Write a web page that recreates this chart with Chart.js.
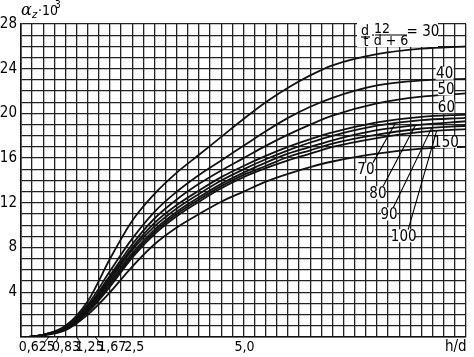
<!DOCTYPE html>
<html>
<head>
<meta charset="utf-8">
<script src="https://cdn.jsdelivr.net/npm/chart.js@4/dist/chart.umd.min.js"></script>
<style>
html,body{margin:0;padding:0;background:#fff;}
canvas{display:block;}
</style>
</head>
<body>
<canvas id="c" width="474" height="357"></canvas>
<script>
// ---- data ----
const xValues = [0.17, 0.5, 1.0, 1.5, 2.0, 2.5, 3.0, 3.5, 4.0, 4.5, 5.0, 5.5, 6.0, 6.5, 7.0, 8.0, 9.0, 10.0];
const c30  = [0, 0.2, 1.0, 3.2, 7.0, 10.4, 12.8, 14.7, 16.3, 17.9, 19.5, 21.0, 22.3, 23.4, 24.3, 25.3, 25.8, 26.0];
const c40  = [0, 0.2, 0.9, 2.9, 5.9, 8.8, 11.2, 13.0, 14.5, 15.8, 17.1, 18.4, 19.6, 20.6, 21.4, 22.5, 22.95, 23.1];
const c50  = [0, 0.2, 0.9, 2.7, 5.5, 8.3, 10.6, 12.3, 13.7, 14.9, 16.0, 17.1, 18.1, 19.0, 19.8, 20.9, 21.5, 21.8];
const c60  = [0, 0.2, 0.8, 2.6, 5.3, 8.0, 10.2, 11.8, 13.1, 14.3, 15.3, 16.2, 17.0, 17.7, 18.3, 19.2, 19.7, 19.9];
const c70  = [0, 0.2, 0.8, 2.5, 5.1, 7.8, 9.9, 11.5, 12.8, 14.0, 15.0, 15.9, 16.7, 17.4, 18.0, 18.9, 19.4, 19.6];
const c80  = [0, 0.2, 0.75, 2.4, 4.9, 7.5, 9.6, 11.2, 12.5, 13.7, 14.7, 15.6, 16.4, 17.0, 17.6, 18.5, 19.0, 19.3];
const c90  = [0, 0.2, 0.7, 2.3, 4.7, 7.3, 9.4, 11.0, 12.3, 13.5, 14.5, 15.3, 16.1, 16.7, 17.3, 18.1, 18.65, 18.9];
const c100 = [0, 0.2, 0.7, 2.2, 4.5, 7.1, 9.2, 10.8, 12.1, 13.3, 14.3, 15.1, 15.8, 16.4, 17.0, 17.8, 18.35, 18.6];
const c150 = [0, 0.15, 0.6, 2.0, 4.0, 6.3, 8.3, 9.8, 11.0, 12.1, 13.0, 13.9, 14.6, 15.2, 15.7, 16.4, 16.85, 17.0];
const seriesNames = ["30", "40", "50", "60", "70", "80", "90", "100", "150"];
const seriesValues = [c30, c40, c50, c60, c70, c80, c90, c100, c150];
const xTickValues = [0.625, 0.833, 1.25, 1.667, 2.5, 5.0];
const xTickLabels = ["0,625", "0,83", "1,25", "1,67", "2,5", "5,0"];
const yLabelStep = 4;

// ---- annotation placement (data coords) ----
const fam = "'Liberation Sans Narrow', 'DejaVu Sans Condensed', sans-serif";
const labelFont = "15px " + fam;
const curveLabels = [
  {series: "40",  x: 9.52, y: 23.6, w: 18, h: 13},
  {series: "50",  x: 9.55, y: 22.2, w: 16, h: 13},
  {series: "60",  x: 9.56, y: 20.6, w: 16, h: 13},
  {series: "150", x: 9.55, y: 17.45, w: 22, h: 12},
  {series: "70",  x: 7.75, y: 15.0, w: 18, h: 13, leadFrom: [7.91, 15.6], leadTo: 8.41},
  {series: "80",  x: 8.02, y: 12.9, w: 16, h: 13, leadFrom: [8.14, 13.5], leadTo: 8.86},
  {series: "90",  x: 8.27, y: 11.0, w: 16, h: 13, leadFrom: [8.37, 11.6], leadTo: 9.23},
  {series: "100", x: 8.60, y: 9.05, w: 22, h: 13, leadFrom: [8.70, 9.6], leadTo: 9.34}
];
const xLabelOffsets = [ // dx of label centre from tick, leader (dx1,dy1)->(0,0)
  {dx: -12, lead: [-4, 5]},
  {dx: 8,   lead: [-2, 5]},
  {dx: 13,  lead: [4, 6]},
  {dx: 17,  lead: [5, 6]},
  {dx: 2,   lead: null},
  {dx: 1,   lead: null}
];

function interp(vals, x) {
  for (let i = 0; i < xValues.length - 1; i++) {
    if (x >= xValues[i] && x <= xValues[i+1]) {
      const t = (x - xValues[i]) / (xValues[i+1] - xValues[i]);
      return vals[i] + t * (vals[i+1] - vals[i]);
    }
  }
  return vals[vals.length - 1];
}

const annot = {
  id: 'annot',
  afterDatasetsDraw(chart) {
    const ctx = chart.ctx, xs = chart.scales.x, ys = chart.scales.y;
    const ca = chart.chartArea;
    ctx.save();
    ctx.fillStyle = '#000'; ctx.strokeStyle = '#000';
    ctx.textAlign = 'center'; ctx.textBaseline = 'middle';
    ctx.font = labelFont;
    // curve labels
    curveLabels.forEach(l => {
      const px = xs.getPixelForValue(l.x), py = ys.getPixelForValue(l.y);
      ctx.fillStyle = '#fff';
      ctx.fillRect(px - l.w/2, py - l.h/2, l.w, l.h);
      ctx.fillStyle = '#000';
      ctx.fillText(l.series, px, py + 1);
      if (l.leadFrom) {
        const vals = seriesValues[seriesNames.indexOf(l.series)];
        ctx.lineWidth = 1.1;
        ctx.beginPath();
        ctx.moveTo(xs.getPixelForValue(l.leadFrom[0]), ys.getPixelForValue(l.leadFrom[1]));
        ctx.lineTo(xs.getPixelForValue(l.leadTo), ys.getPixelForValue(interp(vals, l.leadTo)));
        ctx.stroke();
      }
    });
    // title formula box for curve 30
    const bx = xs.getPixelForValue(7.55), by = ca.top - 1;
    ctx.fillStyle = '#fff';
    ctx.fillRect(bx, by, 81, 24);
    ctx.fillStyle = '#000';
    ctx.font = "14px " + fam;
    ctx.fillText('d', bx + 8, by + 8);
    ctx.fillText('t', bx + 9, by + 19);
    ctx.lineWidth = 1.2;
    ctx.beginPath(); ctx.moveTo(bx + 4, by + 14); ctx.lineTo(bx + 13, by + 14); ctx.stroke();
    ctx.fillText('·', bx + 16, by + 13);
    ctx.fillText('12', bx + 25, by + 6);
    ctx.beginPath(); ctx.moveTo(bx + 18, by + 12); ctx.lineTo(bx + 50, by + 12); ctx.stroke();
    ctx.fillText('d + 6', bx + 34, by + 18);
    ctx.font = labelFont;
    ctx.fillText('= 30', bx + 66, by + 9);
    // y-axis title
    ctx.textAlign = 'left'; ctx.textBaseline = 'alphabetic';
    ctx.font = "italic 16px 'DejaVu Serif', serif";
    ctx.fillText('α', 21, 15);
    ctx.font = "italic 10px 'DejaVu Sans', sans-serif";
    ctx.fillText('z', 32, 18);
    ctx.font = "14px " + fam;
    ctx.fillText('·10', 38, 15);
    ctx.font = "10px " + fam;
    ctx.fillText('3', 55, 8);
    // x tick labels
    ctx.font = "14px " + fam; ctx.textAlign = 'center'; ctx.textBaseline = 'top';
    xTickValues.forEach((v, i) => {
      const px = xs.getPixelForValue(v), o = xLabelOffsets[i];
      ctx.fillText(xTickLabels[i], px + o.dx, ca.bottom + 3);
      if (o.lead) {
        ctx.lineWidth = 1;
        ctx.beginPath(); ctx.moveTo(px + o.lead[0], ca.bottom + o.lead[1]); ctx.lineTo(px, ca.bottom); ctx.stroke();
      }
    });
    ctx.font = labelFont;
    ctx.fillText('h/d', xs.getPixelForValue(9.77), ca.bottom + 3);
    ctx.restore();
  }
};

new Chart(document.getElementById('c'), {
  type: 'line',
  data: {
    datasets: seriesValues.map((vals, k) => ({
      label: seriesNames[k],
      data: xValues.map((x, i) => ({x: x, y: vals[i]})),
      borderColor: '#111', borderWidth: 1.8, pointRadius: 0,
      cubicInterpolationMode: 'monotone', fill: false
    }))
  },
  options: {
    responsive: false, animation: false, devicePixelRatio: 1,
    layout: {padding: {top: 24, right: 8, left: 0, bottom: 0}},
    plugins: {legend: {display: false}, tooltip: {enabled: false}},
    scales: {
      x: {
        type: 'linear', min: 0, max: 10,
        ticks: {stepSize: 0.25, maxTicksLimit: 100, display: false},
        grid: {color: '#222', lineWidth: 1.3, drawTicks: false},
        border: {color: '#111', width: 1.6},
        afterFit(s) { s.height = 20; }
      },
      y: {
        type: 'linear', min: 0, max: 28,
        ticks: {stepSize: 1, maxTicksLimit: 100, autoSkip: false, padding: 4, color: '#000',
          font: {family: fam, size: 15},
          callback: v => (v > 0 && v % yLabelStep === 0) ? String(v) : ''},
        grid: {color: '#222', lineWidth: 1.3, drawTicks: false},
        border: {color: '#111', width: 1.6},
        afterFit(s) { s.width = 21; }
      }
    }
  },
  plugins: [annot]
});
</script>
</body>
</html>
